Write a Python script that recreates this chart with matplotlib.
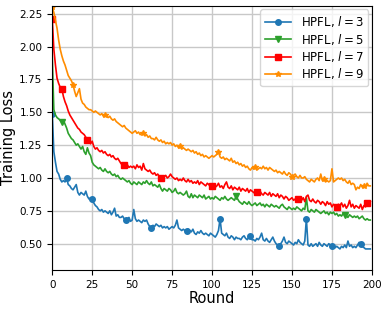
import numpy as np
import matplotlib
matplotlib.use("Agg")
import matplotlib.pyplot as plt

rounds = np.arange(200)

loss_l3 = [1.49, 1.20, 1.12, 1.05, 1.03, 0.99, 0.97, 0.98, 0.97, 1.00,
           0.95, 0.94, 0.92, 0.91, 0.93, 0.95, 0.89, 0.87, 0.89, 0.88,
           0.87, 0.90, 0.86, 0.84, 0.85, 0.84, 0.81, 0.79, 0.78, 0.76,
           0.75, 0.76, 0.74, 0.75, 0.74, 0.73, 0.75, 0.72, 0.74, 0.77,
           0.71, 0.72, 0.70, 0.70, 0.71, 0.69, 0.68, 0.69, 0.70, 0.67,
           0.68, 0.76, 0.69, 0.67, 0.68, 0.67, 0.66, 0.68, 0.67, 0.68,
           0.65, 0.63, 0.62, 0.64, 0.63, 0.65, 0.64, 0.63, 0.64, 0.62,
           0.63, 0.62, 0.63, 0.61, 0.62, 0.63, 0.62, 0.64, 0.68, 0.62,
           0.61, 0.60, 0.61, 0.60, 0.60, 0.61, 0.60, 0.59, 0.61, 0.58,
           0.57, 0.59, 0.58, 0.60, 0.58, 0.57, 0.58, 0.57, 0.56, 0.58,
           0.57, 0.56, 0.55, 0.57, 0.60, 0.69, 0.58, 0.57, 0.56, 0.58,
           0.55, 0.54, 0.56, 0.55, 0.53, 0.55, 0.54, 0.54, 0.53, 0.55,
           0.56, 0.54, 0.53, 0.55, 0.56, 0.53, 0.53, 0.52, 0.54, 0.53,
           0.55, 0.58, 0.53, 0.52, 0.54, 0.52, 0.51, 0.53, 0.55, 0.52,
           0.50, 0.49, 0.48, 0.50, 0.52, 0.55, 0.51, 0.50, 0.52, 0.51,
           0.50, 0.49, 0.51, 0.50, 0.53, 0.51, 0.50, 0.49, 0.52, 0.69,
           0.49, 0.48, 0.50, 0.48, 0.49, 0.50, 0.48, 0.51, 0.49, 0.48,
           0.50, 0.49, 0.48, 0.50, 0.49, 0.48, 0.49, 0.47, 0.48, 0.47,
           0.46, 0.48, 0.47, 0.49, 0.47, 0.52, 0.48, 0.49, 0.47, 0.48,
           0.47, 0.49, 0.51, 0.50, 0.48, 0.47, 0.46, 0.46, 0.46, 0.46]

loss_l5 = [1.92, 1.52, 1.48, 1.46, 1.45, 1.44, 1.43, 1.44, 1.41, 1.38,
           1.34, 1.32, 1.30, 1.29, 1.27, 1.25, 1.26, 1.24, 1.22, 1.24,
           1.20, 1.18, 1.23, 1.19, 1.17, 1.12, 1.10, 1.09, 1.08, 1.07,
           1.08, 1.06, 1.05, 1.07, 1.05, 1.04, 1.05, 1.03, 1.02, 1.03,
           1.01, 1.02, 1.00, 0.99, 1.00, 0.99, 0.98, 0.97, 0.98, 0.96,
           0.95, 0.97, 0.96, 0.95, 0.97, 0.96, 0.95, 0.97, 0.96, 0.98,
           0.96, 0.95, 0.97, 0.94, 0.95, 0.94, 0.93, 0.95, 0.92, 0.90,
           0.92, 0.91, 0.90, 0.92, 0.91, 0.89, 0.90, 0.92, 0.89, 0.88,
           0.89, 0.88, 0.87, 0.88, 0.90, 0.86, 0.85, 0.88, 0.85, 0.87,
           0.86, 0.85, 0.87, 0.86, 0.85, 0.87, 0.84, 0.85, 0.86, 0.84,
           0.85, 0.84, 0.86, 0.85, 0.84, 0.83, 0.85, 0.84, 0.86, 0.84,
           0.83, 0.84, 0.85, 0.84, 0.83, 0.86, 0.84, 0.82, 0.81, 0.80,
           0.82, 0.81, 0.80, 0.82, 0.80, 0.79, 0.80, 0.81, 0.79, 0.80,
           0.81, 0.79, 0.80, 0.78, 0.80, 0.79, 0.78, 0.80, 0.79, 0.78,
           0.79, 0.78, 0.77, 0.79, 0.80, 0.78, 0.77, 0.76, 0.78, 0.77,
           0.76, 0.77, 0.76, 0.78, 0.77, 0.76, 0.75, 0.77, 0.76, 0.85,
           0.75, 0.74, 0.76, 0.75, 0.74, 0.76, 0.75, 0.74, 0.73, 0.74,
           0.75, 0.73, 0.74, 0.72, 0.74, 0.73, 0.74, 0.72, 0.73, 0.71,
           0.72, 0.71, 0.73, 0.72, 0.71, 0.70, 0.72, 0.71, 0.70, 0.71,
           0.70, 0.71, 0.69, 0.70, 0.71, 0.69, 0.68, 0.69, 0.68, 0.68]

loss_l7 = [2.21, 1.98, 1.86, 1.76, 1.72, 1.69, 1.68, 1.62, 1.58, 1.55,
           1.51, 1.48, 1.46, 1.44, 1.42, 1.40, 1.38, 1.37, 1.35, 1.34,
           1.33, 1.31, 1.29, 1.30, 1.26, 1.28, 1.24, 1.22, 1.23, 1.21,
           1.20, 1.21, 1.19, 1.20, 1.18, 1.17, 1.18, 1.16, 1.17, 1.15,
           1.14, 1.15, 1.13, 1.11, 1.10, 1.10, 1.09, 1.10, 1.08, 1.09,
           1.08, 1.09, 1.07, 1.10, 1.08, 1.09, 1.06, 1.11, 1.07, 1.06,
           1.05, 1.06, 1.04, 1.03, 1.04, 1.02, 1.03, 1.01, 1.00, 1.00,
           1.01, 1.02, 1.00, 1.01, 1.03, 1.01, 1.00, 0.99, 1.00, 0.98,
           0.99, 0.98, 1.00, 0.98, 0.97, 0.99, 0.97, 0.98, 0.96, 0.97,
           0.96, 0.98, 0.95, 0.97, 0.96, 0.95, 0.94, 0.96, 0.95, 0.93,
           0.94, 0.95, 0.93, 0.94, 0.96, 0.93, 0.94, 0.92, 0.95, 0.97,
           0.93, 0.92, 0.94, 0.91, 0.93, 0.92, 0.91, 0.93, 0.90, 0.92,
           0.91, 0.90, 0.92, 0.89, 0.91, 0.90, 0.89, 0.88, 0.89, 0.88,
           0.90, 0.88, 0.87, 0.89, 0.88, 0.87, 0.89, 0.86, 0.88, 0.87,
           0.86, 0.88, 0.85, 0.87, 0.86, 0.84, 0.86, 0.85, 0.83, 0.84,
           0.85, 0.83, 0.84, 0.85, 0.84, 0.84, 0.83, 0.85, 0.82, 0.86,
           0.87, 0.83, 0.82, 0.84, 0.82, 0.81, 0.83, 0.82, 0.80, 0.82,
           0.81, 0.79, 0.82, 0.80, 0.81, 0.78, 0.80, 0.79, 0.78, 0.80,
           0.79, 0.81, 0.78, 0.80, 0.77, 0.79, 0.83, 0.78, 0.80, 0.77,
           0.79, 0.78, 0.77, 0.80, 0.76, 0.79, 0.78, 0.81, 0.80, 0.82]

loss_l9 = [2.30, 2.26, 2.20, 2.14, 2.05, 1.98, 1.93, 1.89, 1.86, 1.82,
           1.78, 1.76, 1.74, 1.71, 1.66, 1.62, 1.65, 1.68, 1.60, 1.57,
           1.56, 1.54, 1.53, 1.52, 1.52, 1.51, 1.50, 1.51, 1.50, 1.49,
           1.48, 1.49, 1.47, 1.48, 1.47, 1.46, 1.47, 1.45, 1.44, 1.45,
           1.43, 1.42, 1.41, 1.40, 1.39, 1.40, 1.38, 1.37, 1.36, 1.35,
           1.34, 1.35, 1.36, 1.34, 1.35, 1.33, 1.34, 1.34, 1.32, 1.33,
           1.31, 1.32, 1.30, 1.30, 1.29, 1.31, 1.29, 1.28, 1.29, 1.27,
           1.28, 1.26, 1.27, 1.26, 1.27, 1.25, 1.26, 1.24, 1.25, 1.23,
           1.24, 1.22, 1.23, 1.22, 1.21, 1.22, 1.21, 1.20, 1.21, 1.19,
           1.20, 1.18, 1.19, 1.17, 1.18, 1.16, 1.17, 1.16, 1.15, 1.16,
           1.17, 1.16, 1.17, 1.18, 1.20, 1.16, 1.15, 1.16, 1.14, 1.15,
           1.14, 1.13, 1.15, 1.12, 1.13, 1.11, 1.12, 1.10, 1.11, 1.09,
           1.10, 1.08, 1.09, 1.07, 1.06, 1.08, 1.07, 1.08, 1.06, 1.07,
           1.08, 1.07, 1.09, 1.07, 1.08, 1.06, 1.08, 1.07, 1.06, 1.05,
           1.06, 1.04, 1.05, 1.04, 1.03, 1.05, 1.03, 1.02, 1.04, 1.03,
           1.01, 1.02, 1.03, 1.01, 1.00, 1.02, 1.00, 1.00, 1.01, 0.99,
           0.98, 0.97, 0.99, 0.98, 0.97, 0.99, 1.00, 0.98, 1.03, 0.98,
           0.99, 0.97, 0.98, 0.97, 0.98, 1.07, 0.97, 0.98, 0.99, 1.00,
           0.99, 1.00, 0.98, 0.99, 0.97, 0.96, 0.98, 0.95, 0.96, 0.95,
           0.91, 0.93, 0.92, 0.95, 0.93, 0.94, 0.93, 0.96, 0.94, 0.94]

labels = [r"HPFL, $l=3$", r"HPFL, $l=5$", r"HPFL, $l=7$", r"HPFL, $l=9$"]

fig = plt.figure(figsize=(3.87, 3.11), dpi=100)
ax = fig.add_axes([0.135, 0.132, 0.826, 0.849])

ax.plot(rounds, loss_l3, color="#1f77b4", marker="o", markersize=4, lw=1.2,
        markevery=[0, 9, 25, 46, 62, 84, 105, 124, 142, 159, 175, 193], label=labels[0])
ax.plot(rounds, loss_l5, color="#2ca02c", marker="v", markersize=4, lw=1.2,
        markevery=[6, 115, 183], label=labels[1])
ax.plot(rounds, loss_l7, color="red", marker="s", markersize=4, lw=1.2,
        markevery=[0, 6, 22, 45, 68, 100, 128, 154, 178, 197], label=labels[2])
ax.plot(rounds, loss_l9, color="darkorange", marker="*", markersize=4, lw=1.2,
        markevery=[0, 13, 33, 57, 80, 104, 127, 150, 170, 195], label=labels[3])

ax.set_xlim(0, 200)
ax.set_ylim(0.30, 2.31)
ax.set_xticks([0, 25, 50, 75, 100, 125, 150, 175, 200])
ax.set_yticks([0.5, 0.75, 1.0, 1.25, 1.5, 1.75, 2.0, 2.25])
ax.tick_params(labelsize=7.5)
ax.grid(True, color="#c8c8c8", lw=1)
ax.set_xlabel("Round", fontsize=10.5, labelpad=1)
ax.set_ylabel("Training Loss", fontsize=10.5, labelpad=2.5)
ax.legend(loc="upper right", fontsize=8.5, handlelength=2.2, labelspacing=0.2,
          borderaxespad=0.3, borderpad=0.4)

plt.savefig("out.png", dpi=100)
